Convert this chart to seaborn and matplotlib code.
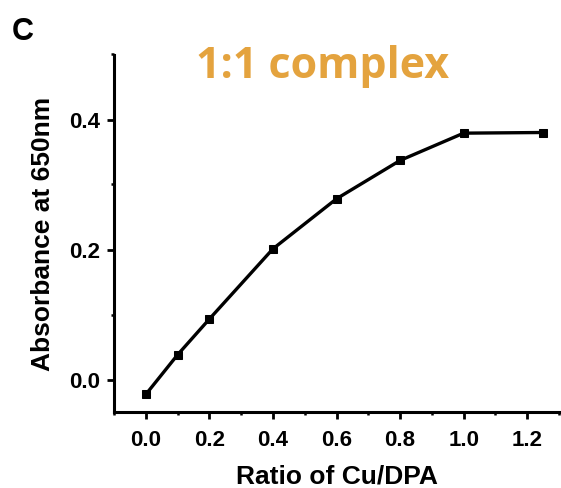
import matplotlib
matplotlib.use("Agg")
import matplotlib.pyplot as plt
from matplotlib.ticker import MultipleLocator, FormatStrFormatter
import seaborn as sns
import pandas as pd

ratio = [0.0, 0.1, 0.2, 0.4, 0.6, 0.8, 1.0, 1.25]
absorbance = [-0.023, 0.038, 0.093, 0.201, 0.278, 0.337, 0.379, 0.380]
x_ticks = [0.0, 0.2, 0.4, 0.6, 0.8, 1.0, 1.2]
y_ticks = [0.0, 0.2, 0.4]

df = pd.DataFrame({"ratio": ratio, "absorbance": absorbance})

sns.set_style("ticks")
plt.rcParams['font.family'] = ['Liberation Sans', 'DejaVu Sans']

fig = plt.figure(figsize=(5.61, 4.89), dpi=100)
ax = fig.add_axes([114/561, 1 - 413/489, 445/561, 357.5/489])

sns.lineplot(data=df, x="ratio", y="absorbance", ax=ax, color="black",
             linewidth=2.4, marker="s", markersize=5.5, markeredgecolor="black",
             markerfacecolor="black", sort=True)

ax.set_xlim(-0.1, 1.3)
ax.set_ylim(-0.05, 0.5)
ax.set_xticks(x_ticks)
ax.set_yticks(y_ticks)
ax.xaxis.set_major_formatter(FormatStrFormatter('%.1f'))
ax.yaxis.set_major_formatter(FormatStrFormatter('%.1f'))
ax.xaxis.set_minor_locator(MultipleLocator(0.1))
ax.yaxis.set_minor_locator(MultipleLocator(0.1))

for side in ["top", "right"]:
    ax.spines[side].set_visible(False)
for side in ["left", "bottom"]:
    ax.spines[side].set_linewidth(2.2)
    ax.spines[side].set_color("black")

ax.tick_params(which="major", direction="out", length=5, width=2.0, colors="black",
               labelsize=16)
ax.tick_params(axis="x", which="major", pad=7)
ax.tick_params(axis="y", which="major", pad=5)
ax.tick_params(which="minor", direction="out", length=2.5, width=1.8, colors="black")
for lab in ax.get_xticklabels() + ax.get_yticklabels():
    lab.set_fontweight("bold")

ax.set_xlabel("Ratio of Cu/DPA", fontsize=19, fontweight="bold", labelpad=10,
              color="black")
ax.set_ylabel("Absorbance at 650nm", fontsize=19, fontweight="bold", labelpad=10,
              color="black")

fig.text(12/561, 1 - 40/489, "C", fontsize=22, fontweight="bold", ha="left",
         va="baseline", color="black")
fig.text(323/561, 1 - 78/489, "1:1 complex", fontsize=31, fontweight="bold",
         ha="center", va="baseline", color="#E4A33E",
         family=["Open Sans", "DejaVu Sans"])

fig.savefig("out.png", dpi=100)
